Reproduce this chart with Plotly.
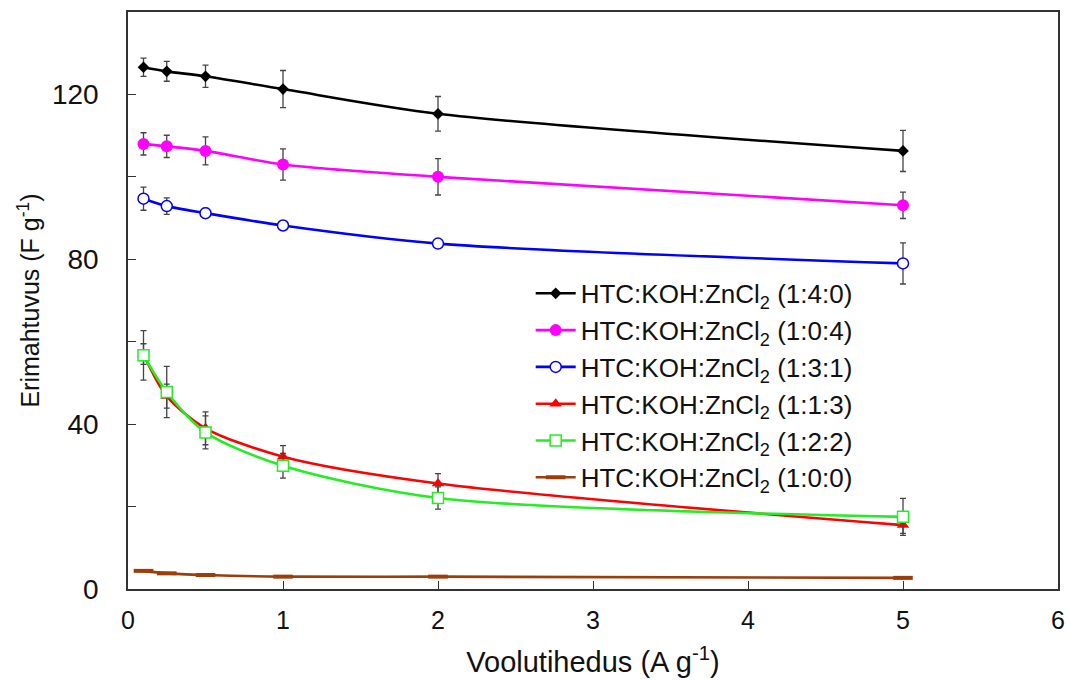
import plotly.graph_objects as go

x_vals = [0.1, 0.25, 0.5, 1, 2, 5]

names = [
    "HTC:KOH:ZnCl<sub>2</sub> (1:4:0)",
    "HTC:KOH:ZnCl<sub>2</sub> (1:0:4)",
    "HTC:KOH:ZnCl<sub>2</sub> (1:3:1)",
    "HTC:KOH:ZnCl<sub>2</sub> (1:1:3)",
    "HTC:KOH:ZnCl<sub>2</sub> (1:2:2)",
    "HTC:KOH:ZnCl<sub>2</sub> (1:0:0)",
]

y_140 = [126.6, 125.6, 124.4, 121.3, 115.3, 106.3]
e_140 = [2.2, 2.4, 2.7, 4.5, 4.2, 5.0]

y_104 = [108.0, 107.4, 106.3, 103.0, 100.0, 93.1]
e_104 = [2.7, 2.7, 3.4, 3.8, 4.4, 3.2]

y_131 = [94.7, 92.9, 91.2, 88.2, 83.8, 79.0]
e_131 = [2.8, 2.0, 1.2, 1.0, 1.0, 5.0]

y_113 = [57.0, 46.8, 39.0, 32.1, 25.6, 15.5]
e_113 = [2.5, 2.9, 4.0, 2.7, 2.4, 2.0]

y_122 = [56.7, 47.8, 38.0, 29.9, 22.1, 17.5]
e_122 = [6.0, 6.2, 4.0, 3.0, 2.7, 4.5]

y_100 = [4.4, 3.8, 3.4, 3.0, 3.0, 2.7]
e_100 = [0.2, 0.2, 0.2, 0.2, 0.2, 0.2]

series = [
    (y_140, e_140, "#000000", dict(symbol="diamond", size=9, color="#000000")),
    (y_104, e_104, "#ff00ff", dict(symbol="circle", size=12, color="#ff00ff")),
    (y_131, e_131, "#0000ff", dict(symbol="circle", size=11, color="white",
                                   line=dict(color="#0000ff", width=1.5))),
    (y_113, e_113, "#ff0000", dict(symbol="triangle-up", size=11, color="#ff0000")),
    (y_122, e_122, "#22ee22", dict(symbol="square", size=11, color="white",
                                   line=dict(color="#22ee22", width=1.5))),
    (y_100, e_100, "#9c3d0c", dict(symbol="line-ew", size=14,
                                   line=dict(color="#9c3d0c", width=4))),
]

FONT = "Liberation Sans, Arial, sans-serif"
TXT = "#111111"

fig = go.Figure()
for name, (ys, es, col, mk) in zip(names, series):
    fig.add_trace(go.Scatter(
        x=x_vals, y=ys, name=name, mode="lines+markers",
        line=dict(color=col, width=2.6, shape="spline", smoothing=0.8),
        marker=mk,
        error_y=dict(type="data", array=es, visible=True, color="#444444",
                     thickness=1.3, width=3),
    ))

axis_common = dict(
    showline=True, linecolor="#333333", linewidth=1.5, mirror=True,
    ticks="inside", ticklen=8, tickcolor="#333333", tickwidth=1.2,
    showgrid=False, zeroline=False, automargin=False,
)

fig.update_xaxes(range=[0, 6], tickvals=[0, 1, 2, 3, 4, 5, 6],
                 ticklabelstandoff=8,
                 tickfont=dict(family=FONT, size=25, color=TXT),
                 title=dict(text="Voolutihedus (A g<sup>-1</sup>)",
                            font=dict(family=FONT, size=29, color=TXT),
                            standoff=19),
                 **axis_common)
fig.update_yaxes(range=[0, 140], tickvals=[0, 40, 80, 120],
                 minor=dict(tickvals=[20, 60, 100], ticks="inside", ticklen=8,
                            tickcolor="#333333", tickwidth=1.2),
                 ticklabelstandoff=22,
                 tickfont=dict(family=FONT, size=28, color=TXT),
                 title=dict(text="Erimahtuvus (F g<sup>-1</sup>)",
                            font=dict(family=FONT, size=25, color=TXT),
                            standoff=5),
                 **axis_common)

fig.update_layout(
    width=1069, height=681,
    margin=dict(l=128, r=11, t=12, b=92),
    paper_bgcolor="white", plot_bgcolor="white",
    font=dict(family=FONT, size=20, color=TXT),
    legend=dict(x=0.433, y=0.553, xanchor="left", yanchor="top",
                bgcolor="rgba(0,0,0,0)", font=dict(family=FONT, size=26, color=TXT),
                itemwidth=40, tracegroupgap=0),
    showlegend=True,
)

fig.write_html("out.html", config={"displayModeBar": False},
               post_script="document.body.style.margin='0';")
